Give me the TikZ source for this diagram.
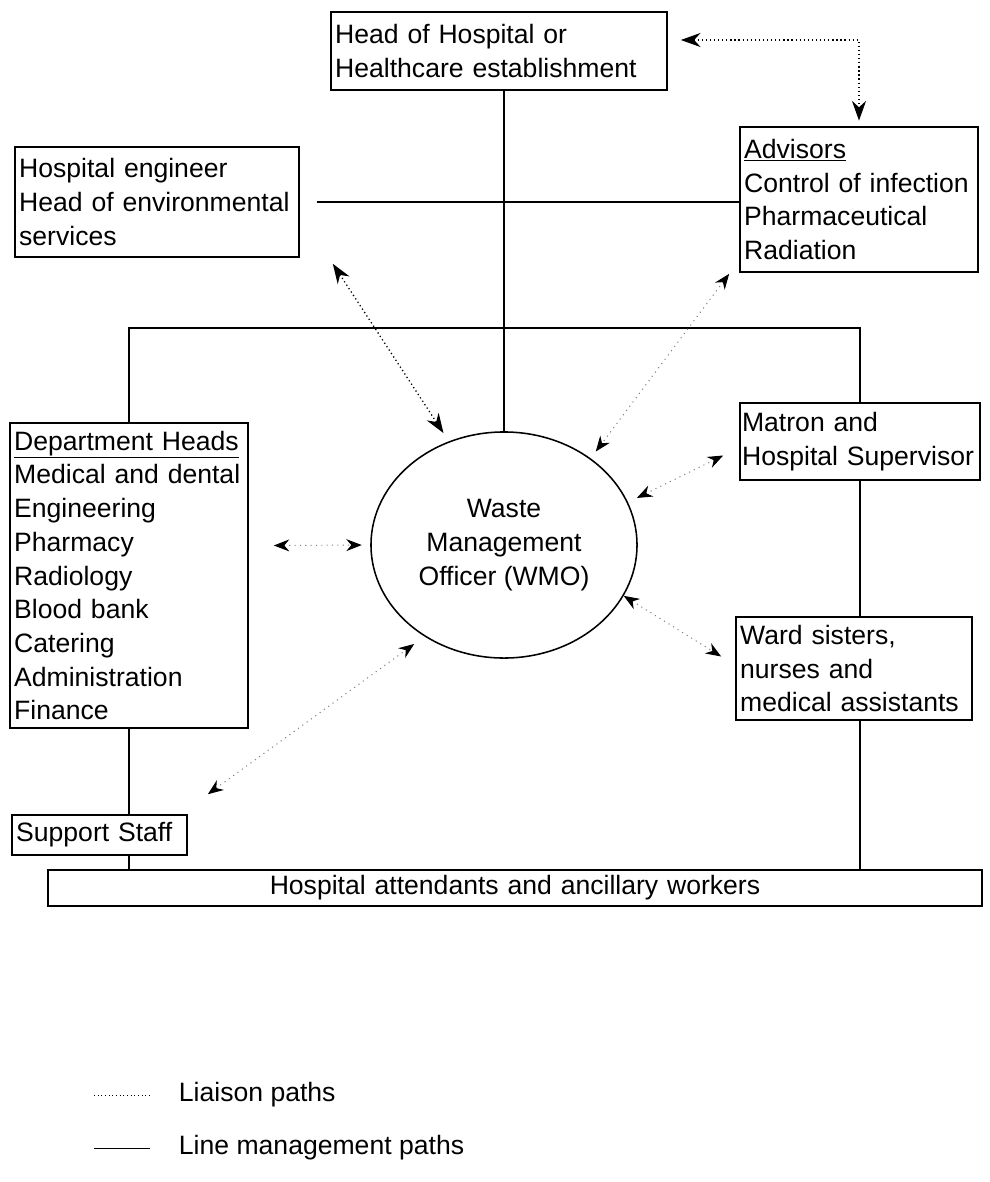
\documentclass[tikz,border=0pt]{standalone}
\usepackage{fontspec}
\setmainfont{Liberation Sans}
\usepackage{tikz}
\usetikzlibrary{arrows.meta,shapes.geometric}

\newcommand{\chartfont}{\fontsize{18.9pt}{24pt}\selectfont}

\begin{document}
\begin{tikzpicture}[x=0.025cm, y=-0.025cm,
  box/.style={draw, line width=1.1pt, align=left, inner xsep=3pt, inner ysep=0pt, font=\chartfont},
  mgmt/.style={line width=1.1pt},
  liaison/.style={dotted, line width=0.9pt, {Stealth[length=14pt,width=10pt]}-{Stealth[length=14pt,width=10pt]}},
  faint/.style={draw=black!50, line width=0.7pt, dash pattern=on 0.8pt off 3pt,
    {Stealth[black,length=11pt,width=8.5pt]}-{Stealth[black,length=11pt,width=8.5pt]}}]
\useasboundingbox (0,0) rectangle (989,1182);
% Boxes
\node[box, text width=8.19cm, minimum height=1.95cm] (head) at (499,51) {Head of Hospital or\\Healthcare establishment};
\node[box, text width=6.89cm, minimum height=2.75cm] (eng) at (157,202) {Hospital engineer\\Head of environmental\\services};
\node[box, text width=5.74cm, minimum height=3.625cm] (adv) at (859,199.5) {\underline{Advisors}\\Control of infection\\Pharmaceutical\\Radiation};
\node[box, text width=5.74cm, minimum height=7.625cm] (dept) at (129,575.5) {\underline{Department Heads}\\Medical and dental\\Engineering\\Pharmacy\\Radiology\\Blood bank\\Catering\\Administration\\Finance};
\node[box, text width=5.895cm, inner xsep=1.5pt, minimum height=1.925cm] (matron) at (860,441.5) {Matron and\\Hospital Supervisor};
\node[box, text width=5.69cm, minimum height=2.575cm] (ward) at (854,668.5) {Ward sisters,\\nurses and\\medical assistants};
\node[box, text width=4.165cm, minimum height=1.0cm] (support) at (99.5,835) {Support Staff};
\node[box, align=center, text width=23.14cm, minimum height=0.9cm] (bar) at (515,888) {Hospital attendants and ancillary workers};
\node[draw, ellipse, line width=1.1pt, minimum width=6.65cm, minimum height=5.65cm, inner sep=0pt, align=center, font=\chartfont] (wmo) at (504,545) {Waste\\Management\\Officer (WMO)};

% Line management paths
\coordinate (ring) at (0,328);
\draw[mgmt] (wmo.north |- head.south) -- (wmo.north);
\draw[mgmt] ([xshift=0.42cm]eng.east) -- (eng.east -| adv.west);
\draw[mgmt] (dept.north) -- (dept.north |- ring) -- (matron.north |- ring) -- (matron.north);
\draw[mgmt] (matron.south) -- (matron.south |- ward.north);
\draw[mgmt] (matron.south |- ward.south) -- (matron.south |- bar.north);
\draw[mgmt] (dept.south) -- (dept.south |- support.north);
\draw[mgmt] (dept.south |- support.south) -- (dept.south |- bar.north);

% Liaison paths
\draw[liaison] ([shift={(13,-11)}]head.east) -| ([yshift=4pt]adv.north);
\draw[liaison, shorten >=7pt] ([shift={(33,6)}]eng.south east) -- (wmo.118);
\draw[faint, shorten >=6pt] ([shift={(-10,1)}]adv.south west) -- (wmo.45);
\draw[faint, shorten >=6pt] ([shift={(25,-30)}]dept.east) -- (wmo.west);
\draw[faint, shorten <=7pt] (wmo.19) -- ([shift={(-16,14)}]matron.west);
\draw[faint] (wmo.-23) -- ([shift={(-14,-12)}]ward.west);
\draw[faint, shorten >=9pt] ([shift={(20,-20)}]support.north east) -- (wmo.229);

% Key
\node[anchor=west, font=\chartfont] (liaisonkey) at (174,1095) {Liaison paths};
\node[anchor=west, font=\chartfont] (mgmtkey) at (174,1148) {Line management paths};
\draw[dotted, line width=0.6pt] ([xshift=-2cm]liaisonkey.west) -- ([xshift=-0.6cm]liaisonkey.west);
\draw[line width=0.6pt] ([xshift=-2cm]mgmtkey.west) -- ([xshift=-0.6cm]mgmtkey.west);
\end{tikzpicture}
\end{document}
